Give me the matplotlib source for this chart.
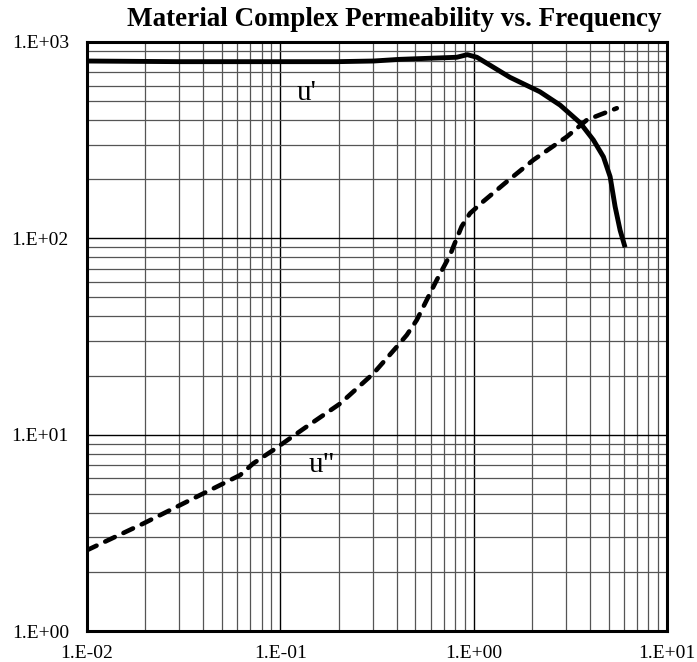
import matplotlib
matplotlib.use('Agg')
import matplotlib.pyplot as plt
import numpy as np
from matplotlib.ticker import LogLocator, FuncFormatter, NullFormatter

# permeability curves
freq_u1 = [0.01, 0.0303, 0.196, 0.303, 0.416, 0.818, 0.927, 1.04, 1.54, 2.20,
           2.80, 3.55, 4.16, 4.69, 5.08, 5.39, 5.72, 6.07]
u1 = [800, 794, 794, 800, 816, 836, 862, 836, 661, 558,
      477, 388, 317, 260, 206, 145, 110, 90]

freq_u2 = [0.01, 0.0196, 0.0384, 0.0619, 0.0725, 0.092, 0.137, 0.204, 0.303,
           0.400, 0.451, 0.508, 0.595, 0.644, 0.755, 0.785, 0.867, 0.957,
           1.12, 1.48, 2.04, 3.03, 3.85, 5.50]
u2 = [2.58, 3.53, 4.92, 6.22, 7.14, 8.35, 11.0, 14.4, 20.5,
      28.0, 32.2, 38.4, 52.5, 61.3, 82.2, 90.6, 115, 134,
      154, 194, 251, 329, 401, 460]

xticks = [1e-2, 1e-1, 1e0, 1e1]
yticks = [1e0, 1e1, 1e2, 1e3]

plt.rcParams['font.family'] = ['Liberation Serif', 'DejaVu Serif']

fig = plt.figure(figsize=(6.97, 6.62), dpi=100)
ax = fig.add_axes([87/697, 1 - 631/662, 580/697, 589/662])

ax.plot(freq_u1, u1, color='black', lw=3.5, solid_joinstyle='round', solid_capstyle='butt')
ax.plot(freq_u2, u2, color='black', lw=3.3, linestyle=(0, (2.3, 2.1)), dash_capstyle='round')

ax.set_xscale('log')
ax.set_yscale('log')
ax.set_xlim(1e-2, 1e1)
ax.set_ylim(1e0, 1e3)

ax.set_xticks(xticks)
ax.set_yticks(yticks)
fmt = FuncFormatter(lambda v, p: '1.E%+03d' % int(round(np.log10(v))))
ax.xaxis.set_major_formatter(fmt)
ax.yaxis.set_major_formatter(fmt)
ax.xaxis.set_minor_locator(LogLocator(base=10, subs=np.arange(2, 10)))
ax.yaxis.set_minor_locator(LogLocator(base=10, subs=np.arange(2, 10)))
ax.xaxis.set_minor_formatter(NullFormatter())
ax.yaxis.set_minor_formatter(NullFormatter())

ax.grid(which='major', color='black', lw=1.0)
ax.grid(which='minor', color='#555555', lw=0.9)
ax.set_axisbelow(True)

ax.tick_params(which='both', length=0, labelsize=14)
ax.tick_params(axis='x', pad=10)
ax.tick_params(axis='y', pad=13)

for sp in ax.spines.values():
    sp.set_linewidth(2.2)

ax.text(0.137, 550, "u'", fontsize=21, ha='center', va='center')
ax.text(0.164, 7.0, 'u"', fontsize=21, ha='center', va='center')

fig.text(394/697, 1 - 20/662, 'Material Complex Permeability vs. Frequency',
         fontsize=19.5, fontweight='bold', ha='center', va='center')

fig.savefig('out.png', dpi=100)
